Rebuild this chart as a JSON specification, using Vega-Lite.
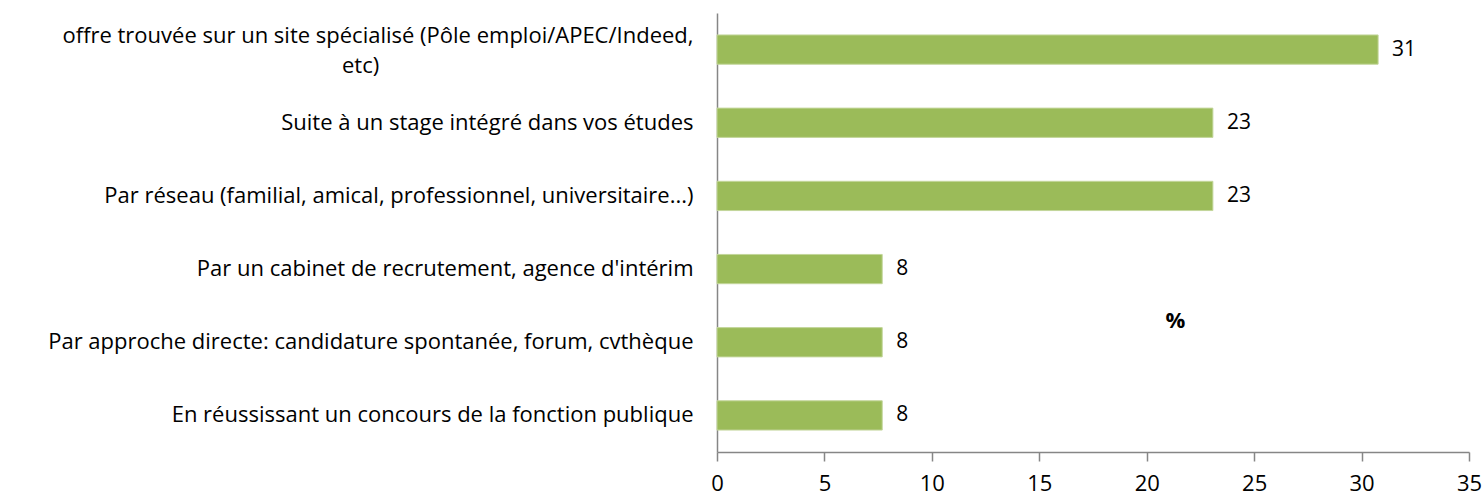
{
  "$schema": "https://vega.github.io/schema/vega-lite/v6.json",
  "width": 752,
  "height": 439,
  "autosize": {"type": "none"},
  "padding": {"left": 717, "top": 13, "right": 13, "bottom": 44},
  "background": "white",
  "config": {
    "view": {"stroke": null},
    "font": "Open Sans",
    "text": {"font": "Open Sans"}
  },
  "data": {
    "values": [
      {"mode": "offre trouvée sur un site spécialisé (Pôle emploi/APEC/Indeed, etc)", "pct": 30.77, "label": "31"},
      {"mode": "Suite à un stage intégré dans vos études", "pct": 23.08, "label": "23"},
      {"mode": "Par réseau (familial, amical, professionnel, universitaire...)", "pct": 23.08, "label": "23"},
      {"mode": "Par un cabinet de recrutement, agence d'intérim", "pct": 7.69, "label": "8"},
      {"mode": "Par approche directe: candidature spontanée, forum, cvthèque", "pct": 7.69, "label": "8"},
      {"mode": "En réussissant un concours de la fonction publique", "pct": 7.69, "label": "8"}
    ]
  },
  "encoding": {
    "y": {
      "field": "mode",
      "type": "nominal",
      "sort": null,
      "scale": {"paddingInner": 0.6, "paddingOuter": 0.3},
      "axis": {
        "title": null,
        "ticks": false,
        "domainColor": "#868686",
        "domainWidth": 1.5,
        "labelFont": "Open Sans",
        "labelFontSize": 22,
        "labelColor": "#000000",
        "labelPadding": 24,
        "labelLimit": 0,
        "labelLineHeight": 30,
        "labelOffset": {"condition": {"test": "indexof(datum.value, 'Indeed, etc') >= 0", "value": -14}, "value": 0},
        "labelExpr": "indexof(datum.value, 'Indeed, etc') >= 0 ? ['offre trouvée sur un site spécialisé (Pôle emploi/APEC/Indeed,', 'etc)' + '\u00a0\u00a0\u00a0\u00a0\u00a0\u00a0\u00a0\u00a0\u00a0\u00a0\u00a0\u00a0\u00a0\u00a0\u00a0\u00a0\u00a0\u00a0\u00a0\u00a0\u00a0\u00a0\u00a0\u00a0\u00a0\u00a0\u00a0\u00a0\u00a0\u00a0\u00a0\u00a0\u00a0\u00a0\u00a0\u00a0\u00a0\u00a0\u00a0\u00a0\u00a0\u00a0\u00a0\u00a0\u00a0\u00a0\u00a0\u00a0\u00a0\u00a0\u00a0\u00a0\u00a0\u00a0\u00a0\u200b'] : datum.value"
      }
    },
    "x": {
      "field": "pct",
      "type": "quantitative",
      "scale": {"domain": [0, 35], "nice": false},
      "axis": {
        "title": "%",
        "titleFont": "Open Sans",
        "titleFontSize": 22,
        "titleFontWeight": "bold",
        "titleColor": "#000000",
        "titleX": 458,
        "titleY": -132,
        "titleAlign": "center",
        "titleBaseline": "middle",
        "values": [0, 5, 10, 15, 20, 25, 30, 35],
        "grid": false,
        "domainColor": "#868686",
        "domainWidth": 1.5,
        "tickColor": "#868686",
        "tickWidth": 1.5,
        "tickSize": 9,
        "labelFont": "Open Sans",
        "labelFontSize": 22,
        "labelColor": "#000000",
        "labelPadding": 12,
        "labelFlush": false
      }
    }
  },
  "layer": [
    {"mark": {"type": "bar", "color": "#9BBB59", "stroke": "#C3D69B", "strokeWidth": 1}},
    {
      "mark": {"type": "text", "align": "left", "baseline": "middle", "dx": 14, "fontSize": 21, "color": "#000000"},
      "encoding": {"text": {"field": "label"}}
    }
  ]
}
